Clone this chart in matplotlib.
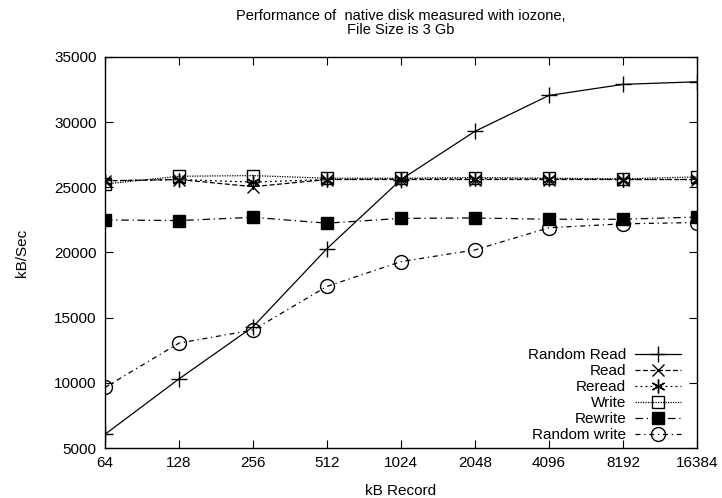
import matplotlib
matplotlib.use("Agg")
import matplotlib.pyplot as plt

plt.rcParams['font.family'] = ['Liberation Sans', 'DejaVu Sans']

record_kb = [64, 128, 256, 512, 1024, 2048, 4096, 8192, 16384]
random_read = [6050, 10300, 14300, 20300, 25600, 29300, 32050, 32900, 33100]
read = [25500, 25600, 25050, 25600, 25600, 25600, 25600, 25600, 25600]
reread = [25500, 25600, 25400, 25600, 25650, 25650, 25650, 25600, 25600]
write = [25250, 25850, 25900, 25700, 25700, 25750, 25700, 25650, 25800]
rewrite = [22500, 22450, 22700, 22250, 22620, 22650, 22550, 22550, 22720]
random_write = [9650, 13050, 14050, 17400, 19300, 20200, 21900, 22200, 22300]

series = [
    ("Random Read", random_read, dict(ls='-', marker='+', ms=11, mfc='none')),
    ("Read", read, dict(ls=(0, (4, 2)), marker='x', ms=9, mfc='none')),
    ("Reread", reread, dict(ls=(0, (1.5, 2.5)), marker=(6, 2, 0), ms=10, mfc='none')),
    ("Write", write, dict(ls=(0, (1, 1)), marker='s', ms=9, mfc='none')),
    ("Rewrite", rewrite, dict(ls=(0, (6, 3, 1, 3)), marker='s', ms=9, mfc='black')),
    ("Random write", random_write, dict(ls=(0, (4, 3, 1, 3)), marker='o', ms=10, mfc='none')),
]

fig = plt.figure(figsize=(7.22, 4.98), dpi=100)
ax = fig.add_axes([105/722, 50/498, (697-105)/722, (448-57)/498])

for name, vals, st in series:
    ax.plot(record_kb, vals, color='black', lw=0.9, mec='black', mew=1.0,
            label=name, **st)

ax.set_xscale('log', base=2)
ax.set_xlim(64, 16384)
ax.set_ylim(5000, 35000)
ax.set_xticks(record_kb)
ax.set_xticklabels([str(v) for v in record_kb])
ax.minorticks_off()
ax.set_yticks(range(5000, 35001, 5000))
ax.tick_params(direction='in', top=True, right=True, length=6, width=0.8,
               labelsize=11, pad=6)
ax.tick_params(axis='x', pad=6)
for s in ax.spines.values():
    s.set_linewidth(1.0)

ax.set_xlabel("kB Record", fontsize=11, labelpad=10)
ax.set_ylabel("kB/Sec", fontsize=11, labelpad=18)
fig.text(401/722, 1 - 23/498,
         "Performance of  native disk measured with iozone,\nFile Size is 3 Gb",
         fontsize=10.5, ha='center', va='center', multialignment='center',
         linespacing=0.95)

leg = ax.legend(loc='lower right', frameon=False, markerfirst=False,
                numpoints=1, handlelength=3.0, fontsize=11,
                labelspacing=0.13, handletextpad=0.6, borderaxespad=0,
                borderpad=0, bbox_to_anchor=((681-105)/592, 6/391))

fig.savefig("out.png", dpi=100)
